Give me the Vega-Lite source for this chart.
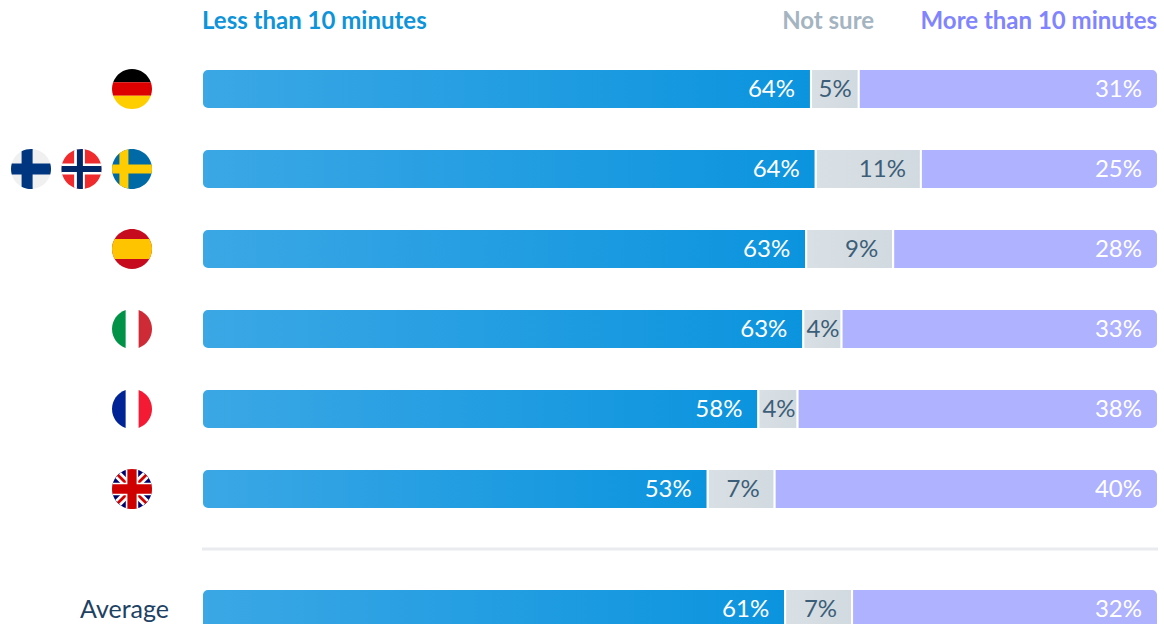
{
  "$schema": "https://vega.github.io/schema/vega-lite/v6.json",
  "width": 1164,
  "height": 624,
  "autosize": "none",
  "padding": 0,
  "background": "#ffffff",
  "config": {"view": {"stroke": null}, "text": {"font": "Lato"}},
  "datasets": {
    "segments": [
      {"country": "Germany", "rowOrder": 1, "part": 1, "answer": "Less than 10 minutes", "share": 0.637},
      {"country": "Germany", "rowOrder": 1, "part": 2, "answer": "Not sure", "share": 0.05},
      {"country": "Germany", "rowOrder": 1, "part": 3, "answer": "More than 10 minutes", "share": 0.313},
      {"country": "Nordics", "rowOrder": 2, "part": 1, "answer": "Less than 10 minutes", "share": 0.642},
      {"country": "Nordics", "rowOrder": 2, "part": 2, "answer": "Not sure", "share": 0.11},
      {"country": "Nordics", "rowOrder": 2, "part": 3, "answer": "More than 10 minutes", "share": 0.248},
      {"country": "Spain", "rowOrder": 3, "part": 1, "answer": "Less than 10 minutes", "share": 0.632},
      {"country": "Spain", "rowOrder": 3, "part": 2, "answer": "Not sure", "share": 0.091},
      {"country": "Spain", "rowOrder": 3, "part": 3, "answer": "More than 10 minutes", "share": 0.277},
      {"country": "Italy", "rowOrder": 4, "part": 1, "answer": "Less than 10 minutes", "share": 0.629},
      {"country": "Italy", "rowOrder": 4, "part": 2, "answer": "Not sure", "share": 0.04},
      {"country": "Italy", "rowOrder": 4, "part": 3, "answer": "More than 10 minutes", "share": 0.331},
      {"country": "France", "rowOrder": 5, "part": 1, "answer": "Less than 10 minutes", "share": 0.582},
      {"country": "France", "rowOrder": 5, "part": 2, "answer": "Not sure", "share": 0.041},
      {"country": "France", "rowOrder": 5, "part": 3, "answer": "More than 10 minutes", "share": 0.377},
      {"country": "United Kingdom", "rowOrder": 6, "part": 1, "answer": "Less than 10 minutes", "share": 0.529},
      {"country": "United Kingdom", "rowOrder": 6, "part": 2, "answer": "Not sure", "share": 0.07},
      {"country": "United Kingdom", "rowOrder": 6, "part": 3, "answer": "More than 10 minutes", "share": 0.401},
      {"country": "Average", "rowOrder": 7.5, "part": 1, "answer": "Less than 10 minutes", "share": 0.61},
      {"country": "Average", "rowOrder": 7.5, "part": 2, "answer": "Not sure", "share": 0.07},
      {"country": "Average", "rowOrder": 7.5, "part": 3, "answer": "More than 10 minutes", "share": 0.32}
    ],
    "flagPieces": [
      {"flag": "Germany", "slot": "inner", "rowOrder": 1, "piece": "top third", "ink": "black"},
      {"flag": "Germany", "slot": "inner", "rowOrder": 1, "piece": "middle third", "ink": "german red"},
      {"flag": "Germany", "slot": "inner", "rowOrder": 1, "piece": "bottom third", "ink": "german gold"},
      {"flag": "Finland", "slot": "outer", "rowOrder": 2, "piece": "disc", "ink": "snow"},
      {"flag": "Finland", "slot": "outer", "rowOrder": 2, "piece": "finnish upright", "ink": "finnish blue"},
      {"flag": "Finland", "slot": "outer", "rowOrder": 2, "piece": "wide crossbar", "ink": "finnish blue"},
      {"flag": "Norway", "slot": "middle", "rowOrder": 2, "piece": "disc", "ink": "norwegian red"},
      {"flag": "Norway", "slot": "middle", "rowOrder": 2, "piece": "norwegian wide upright", "ink": "white"},
      {"flag": "Norway", "slot": "middle", "rowOrder": 2, "piece": "wide crossbar", "ink": "white"},
      {"flag": "Norway", "slot": "middle", "rowOrder": 2, "piece": "norwegian thin upright", "ink": "norwegian navy"},
      {"flag": "Norway", "slot": "middle", "rowOrder": 2, "piece": "thin crossbar", "ink": "norwegian navy"},
      {"flag": "Sweden", "slot": "inner", "rowOrder": 2, "piece": "disc", "ink": "swedish blue"},
      {"flag": "Sweden", "slot": "inner", "rowOrder": 2, "piece": "swedish upright", "ink": "swedish yellow"},
      {"flag": "Sweden", "slot": "inner", "rowOrder": 2, "piece": "swedish crossbar", "ink": "swedish yellow"},
      {"flag": "Spain", "slot": "inner", "rowOrder": 3, "piece": "disc", "ink": "spanish red"},
      {"flag": "Spain", "slot": "inner", "rowOrder": 3, "piece": "spanish band", "ink": "spanish yellow"},
      {"flag": "Italy", "slot": "inner", "rowOrder": 4, "piece": "left third", "ink": "italian green"},
      {"flag": "Italy", "slot": "inner", "rowOrder": 4, "piece": "right third", "ink": "italian red"},
      {"flag": "France", "slot": "inner", "rowOrder": 5, "piece": "left third", "ink": "french blue"},
      {"flag": "France", "slot": "inner", "rowOrder": 5, "piece": "right third", "ink": "french red"},
      {"flag": "United Kingdom", "slot": "inner", "rowOrder": 6, "piece": "disc", "ink": "union navy"},
      {"flag": "United Kingdom", "slot": "inner", "rowOrder": 6, "piece": "white saltire a", "ink": "white"},
      {"flag": "United Kingdom", "slot": "inner", "rowOrder": 6, "piece": "white saltire b", "ink": "white"},
      {"flag": "United Kingdom", "slot": "inner", "rowOrder": 6, "piece": "red saltire a", "ink": "union red"},
      {"flag": "United Kingdom", "slot": "inner", "rowOrder": 6, "piece": "red saltire b", "ink": "union red"},
      {"flag": "United Kingdom", "slot": "inner", "rowOrder": 6, "piece": "union white upright", "ink": "white"},
      {"flag": "United Kingdom", "slot": "inner", "rowOrder": 6, "piece": "union white bar", "ink": "white"},
      {"flag": "United Kingdom", "slot": "inner", "rowOrder": 6, "piece": "union red upright", "ink": "union red"},
      {"flag": "United Kingdom", "slot": "inner", "rowOrder": 6, "piece": "union red bar", "ink": "union red"}
    ]
  },
  "layer": [
    {
      "layer": [
        {
          "data": {"name": "segments"},
          "transform": [
            {"stack": "share", "groupby": ["country"], "sort": [{"field": "part", "order": "ascending"}], "as": ["start", "end"]}
          ],
          "encoding": {
            "y": {"field": "rowOrder", "type": "quantitative", "axis": null, "scale": {"domain": [1, 7.5], "range": [89, 609], "nice": false, "zero": false, "padding": 0}}
          },
          "layer": [
            {
              "transform": [{"filter": "datum.part === 1"}],
              "mark": {"type": "bar", "orient": "horizontal", "size": 40, "stroke": "#ffffff", "strokeWidth": 2, "cornerRadiusTopLeft": 6, "cornerRadiusBottomLeft": 6,
                "color": {"gradient": "linear", "x1": 0, "y1": 0, "x2": 1, "y2": 0, "stops": [{"offset": 0, "color": "#3ba7e5"}, {"offset": 1, "color": "#0b94de"}]}},
              "encoding": {
                "x": {"field": "start", "type": "quantitative", "axis": null, "scale": {"domain": [0, 1], "range": [202, 1158], "nice": false, "zero": false, "padding": 0}},
                "x2": {"field": "end"}
              }
            },
            {
              "transform": [{"filter": "datum.part === 2"}],
              "mark": {"type": "bar", "orient": "horizontal", "size": 40, "stroke": "#ffffff", "strokeWidth": 2,
                "color": {"gradient": "linear", "x1": 0, "y1": 0, "x2": 1, "y2": 0, "stops": [{"offset": 0, "color": "#d9e0e5"}, {"offset": 1, "color": "#d1dae0"}]}},
              "encoding": {
                "x": {"field": "start", "type": "quantitative"},
                "x2": {"field": "end"}
              }
            },
            {
              "transform": [{"filter": "datum.part === 3"}],
              "mark": {"type": "bar", "orient": "horizontal", "size": 40, "stroke": "#ffffff", "strokeWidth": 2, "cornerRadiusTopRight": 6, "cornerRadiusBottomRight": 6, "color": "#afb2ff"},
              "encoding": {
                "x": {"field": "start", "type": "quantitative"},
                "x2": {"field": "end"}
              }
            },
            {
              "transform": [{"filter": "datum.part !== 2"}],
              "mark": {"type": "text", "align": "right", "baseline": "middle", "dx": -16, "dy": 1, "fontSize": 24, "color": "#ffffff"},
              "encoding": {
                "x": {"field": "end", "type": "quantitative"},
                "text": {"field": "share", "type": "quantitative", "format": ".0%"}
              }
            },
            {
              "transform": [{"filter": "datum.part === 2 && datum.share >= 0.06"}],
              "mark": {"type": "text", "align": "right", "baseline": "middle", "dx": -15, "dy": 1, "fontSize": 24, "color": "#3d5e78"},
              "encoding": {
                "x": {"field": "end", "type": "quantitative"},
                "text": {"field": "share", "type": "quantitative", "format": ".0%"}
              }
            },
            {
              "transform": [{"filter": "datum.part === 2 && datum.share >= 0.045 && datum.share < 0.06"}],
              "mark": {"type": "text", "align": "right", "baseline": "middle", "dx": -7, "dy": 1, "fontSize": 24, "color": "#3d5e78"},
              "encoding": {
                "x": {"field": "end", "type": "quantitative"},
                "text": {"field": "share", "type": "quantitative", "format": ".0%"}
              }
            },
            {
              "transform": [{"filter": "datum.part === 2 && datum.share < 0.045"}],
              "mark": {"type": "text", "align": "right", "baseline": "middle", "dx": -2, "dy": 1, "fontSize": 24, "color": "#3d5e78"},
              "encoding": {
                "x": {"field": "end", "type": "quantitative"},
                "text": {"field": "share", "type": "quantitative", "format": ".0%"}
              }
            },
            {
              "transform": [{"filter": "datum.part === 1 && datum.country === 'Average'"}],
              "mark": {"type": "text", "align": "right", "baseline": "middle", "dy": 1, "fontSize": 25, "color": "#1d4263"},
              "encoding": {
                "x": {"datum": -0.0345, "type": "quantitative"},
                "text": {"field": "country"}
              }
            }
          ]
        },
        {
          "data": {"values": [{"divider": "summary"}]},
          "mark": {"type": "rule", "color": "#e9ebee", "strokeWidth": 3},
          "encoding": {
            "x": {"datum": 0, "type": "quantitative"},
            "x2": {"datum": 1},
            "y": {"datum": 6.75, "type": "quantitative"}
          }
        },
        {
          "data": {"values": [{"answer": "Less than 10 minutes"}]},
          "mark": {"type": "text", "align": "left", "baseline": "middle", "dy": 1, "fontSize": 24, "fontWeight": 700, "color": "#0f94da"},
          "encoding": {
            "x": {"datum": 0, "type": "quantitative"},
            "y": {"datum": 0.15, "type": "quantitative"},
            "text": {"field": "answer"}
          }
        },
        {
          "data": {"values": [{"answer": "Not sure"}]},
          "mark": {"type": "text", "align": "right", "baseline": "middle", "dy": 1, "fontSize": 24, "fontWeight": 700, "color": "#a4b4c1"},
          "encoding": {
            "x": {"datum": 0.703, "type": "quantitative"},
            "y": {"datum": 0.15, "type": "quantitative"},
            "text": {"field": "answer"}
          }
        },
        {
          "data": {"values": [{"answer": "More than 10 minutes"}]},
          "mark": {"type": "text", "align": "right", "baseline": "middle", "dy": 1, "fontSize": 24, "fontWeight": 700, "color": "#8184ff"},
          "encoding": {
            "x": {"datum": 0.999, "type": "quantitative"},
            "y": {"datum": 0.15, "type": "quantitative"},
            "text": {"field": "answer"}
          }
        }
      ]
    },
    {
      "data": {"name": "flagPieces"},
      "mark": {"type": "point", "filled": true, "strokeWidth": 0, "opacity": 1, "size": 1600},
      "encoding": {
        "x": {"field": "slot", "type": "ordinal", "axis": null, "scale": {"type": "point", "domain": ["outer", "middle", "inner"], "range": [31, 132], "padding": 0}},
        "y": {"field": "rowOrder", "type": "quantitative"},
        "color": {
          "field": "ink", "type": "nominal", "legend": null,
          "scale": {
            "domain": ["black", "white", "snow", "german red", "german gold", "finnish blue", "norwegian red", "norwegian navy", "swedish blue", "swedish yellow", "spanish red", "spanish yellow", "italian green", "italian red", "french blue", "french red", "union navy", "union red"],
            "range": ["#000000", "#ffffff", "#f0f0f0", "#dd0000", "#ffce00", "#003580", "#ef2b2d", "#002868", "#006aa7", "#fecc00", "#c60b1e", "#ffc400", "#009246", "#ce2b37", "#002395", "#f41a33", "#00006b", "#cf0000"]
          }
        },
        "shape": {
          "field": "piece", "type": "nominal", "legend": null,
          "scale": {
            "domain": ["disc", "top third", "middle third", "bottom third", "left third", "right third", "spanish band", "wide crossbar", "thin crossbar", "swedish crossbar", "finnish upright", "norwegian wide upright", "norwegian thin upright", "swedish upright", "white saltire a", "white saltire b", "red saltire a", "red saltire b", "union white upright", "union white bar", "union red upright", "union red bar"],
            "range": [
              "M -1 0 A 1 1 0 1 1 1 0 A 1 1 0 1 1 -1 0 Z",
              "M -0.943 -0.333 A 1 1 0 0 1 0.943 -0.333 Z",
              "M -0.943 -0.333 L 0.943 -0.333 A 1 1 0 0 1 0.943 0.333 L -0.943 0.333 A 1 1 0 0 1 -0.943 -0.333 Z",
              "M 0.943 0.333 A 1 1 0 0 1 -0.943 0.333 Z",
              "M -0.32 0.947 A 1 1 0 0 1 -0.32 -0.947 Z",
              "M 0.33 -0.944 A 1 1 0 0 1 0.33 0.944 Z",
              "M -0.866 -0.5 L 0.866 -0.5 A 1 1 0 0 1 0.866 0.5 L -0.866 0.5 A 1 1 0 0 1 -0.866 -0.5 Z",
              "M -0.963 -0.27 L 0.963 -0.27 A 1 1 0 0 1 0.963 0.27 L -0.963 0.27 A 1 1 0 0 1 -0.963 -0.27 Z",
              "M -0.989 -0.15 L 0.989 -0.15 A 1 1 0 0 1 0.989 0.15 L -0.989 0.15 A 1 1 0 0 1 -0.989 -0.15 Z",
              "M -0.975 -0.22 L 0.975 -0.22 A 1 1 0 0 1 0.975 0.22 L -0.975 0.22 A 1 1 0 0 1 -0.975 -0.22 Z",
              "M -0.47 -0.883 A 1 1 0 0 1 0.08 -0.997 L 0.08 0.997 A 1 1 0 0 1 -0.47 0.883 Z",
              "M -0.37 -0.929 A 1 1 0 0 1 0.17 -0.985 L 0.17 0.985 A 1 1 0 0 1 -0.37 0.929 Z",
              "M -0.23 -0.973 A 1 1 0 0 1 0.07 -0.998 L 0.07 0.998 A 1 1 0 0 1 -0.23 0.973 Z",
              "M -0.63 -0.777 A 1 1 0 0 1 -0.18 -0.984 L -0.18 0.984 A 1 1 0 0 1 -0.63 0.777 Z",
              "M 0.552 0.834 L 0.834 0.552 L -0.552 -0.834 L -0.834 -0.552 Z",
              "M -0.552 0.834 L -0.834 0.552 L 0.552 -0.834 L 0.834 -0.552 Z",
              "M 0.656 0.755 L 0.755 0.656 L -0.656 -0.755 L -0.755 -0.656 Z",
              "M -0.656 0.755 L -0.755 0.656 L 0.656 -0.755 L 0.755 -0.656 Z",
              "M -0.31 -0.951 A 1 1 0 0 1 0.31 -0.951 L 0.31 0.951 A 1 1 0 0 1 -0.31 0.951 Z",
              "M -0.951 -0.31 L 0.951 -0.31 A 1 1 0 0 1 0.951 0.31 L -0.951 0.31 A 1 1 0 0 1 -0.951 -0.31 Z",
              "M -0.23 -0.973 A 1 1 0 0 1 0.23 -0.973 L 0.23 0.973 A 1 1 0 0 1 -0.23 0.973 Z",
              "M -0.971 -0.24 L 0.971 -0.24 A 1 1 0 0 1 0.971 0.24 L -0.971 0.24 A 1 1 0 0 1 -0.971 -0.24 Z"
            ]
          }
        }
      }
    }
  ],
  "resolve": {"scale": {"x": "independent"}}
}
